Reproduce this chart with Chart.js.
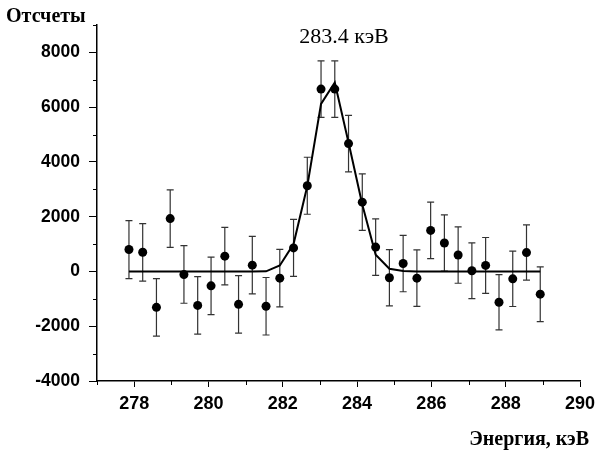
<!DOCTYPE html>
<html>
<head>
<meta charset="utf-8">
<script src="https://cdn.jsdelivr.net/npm/chart.js@4/dist/chart.umd.min.js"></script>
<style>
  html, body { margin: 0; padding: 0; background: #fff; }
  #wrap { width: 598px; height: 450px; }
</style>
</head>
<body>
<div id="wrap"><canvas id="spectrum"></canvas></div>
<script>
// energy channels, keV
const energy = [277.86, 278.23, 278.60, 278.97, 279.34, 279.71, 280.07, 280.44, 280.81, 281.18,
  281.55, 281.92, 282.29, 282.66, 283.03, 283.40, 283.77, 284.14, 284.50, 284.87,
  285.24, 285.61, 285.98, 286.35, 286.72, 287.09, 287.46, 287.82, 288.19, 288.56, 288.93];
// measured counts
const counts = [800, 700, -1310, 1930, -110, -1240, -525, 560, -1200, 230,
  -1270, -245, 860, 3130, 6660, 6660, 4670, 2530, 890, -230,
  290, -245, 1500, 1040, 600, 25, 220, -1125, -270, 690, -830];
// error bar half-heights
const errors = [1060, 1050, 1050, 1050, 1050, 1050, 1050, 1050, 1050, 1050,
  1050, 1050, 1040, 1040, 1030, 1030, 1030, 1030, 1030, 1030,
  1030, 1030, 1030, 1030, 1030, 1020, 1020, 1010, 1010, 1010, 1000];
// fitted peak
const fitCounts = [0, 0, 0, 0, 0, 0, 0, 0, 0, 0,
  5, 220, 1000, 3120, 6117, 6900, 4709, 2448, 612, 99,
  15, 0, 0, 0, 0, 0, 0, 0, 0, 0, 0];

const peakLabel = '283.4 кэВ';
const yTitle = 'Отсчеты';
const xTitle = 'Энергия, кэВ';

const points = energy.map((e, i) => ({ x: e, y: counts[i] }));
const fitLine = energy.map((e, i) => ({ x: e, y: fitCounts[i] }));

// error bars drawn under the points
const errorBars = {
  id: 'errorBars',
  beforeDatasetsDraw(chart) {
    const ctx = chart.ctx;
    const xs = chart.scales.x, ys = chart.scales.y;
    ctx.save();
    ctx.strokeStyle = '#333';
    ctx.lineWidth = 1.2;
    energy.forEach((e, i) => {
      const px = xs.getPixelForValue(e);
      const top = ys.getPixelForValue(counts[i] + errors[i]);
      const bot = ys.getPixelForValue(counts[i] - errors[i]);
      ctx.beginPath();
      ctx.moveTo(px, top); ctx.lineTo(px, bot);
      ctx.moveTo(px - 3.5, top); ctx.lineTo(px + 3.5, top);
      ctx.moveTo(px - 3.5, bot); ctx.lineTo(px + 3.5, bot);
      ctx.stroke();
    });
    ctx.restore();
  }
};

// short minor ticks + free texts
const extras = {
  id: 'extras',
  afterDraw(chart) {
    const ctx = chart.ctx;
    const xs = chart.scales.x, ys = chart.scales.y;
    ctx.save();
    ctx.strokeStyle = '#000';
    ctx.lineWidth = 1;
    xs.ticks.forEach(t => {
      if (t.value % 2 !== 0) {
        const px = Math.round(xs.getPixelForValue(t.value)) + 0.5;
        ctx.beginPath();
        ctx.moveTo(px, xs.top); ctx.lineTo(px, xs.top + 4);
        ctx.stroke();
      }
    });
    ys.ticks.forEach(t => {
      if (t.value % 2000 !== 0) {
        const py = Math.round(ys.getPixelForValue(t.value)) + 0.5;
        ctx.beginPath();
        ctx.moveTo(ys.right, py); ctx.lineTo(ys.right - 4, py);
        ctx.stroke();
      }
    });

    ctx.fillStyle = '#000';
    ctx.textBaseline = 'alphabetic';
    ctx.font = 'bold 20px "Liberation Serif"';
    ctx.textAlign = 'left';
    ctx.fillText(yTitle, 6, 22);
    ctx.textAlign = 'right';
    ctx.font = 'bold 20px "Liberation Serif"';
    ctx.fillText(xTitle, 589, 445);
    ctx.textAlign = 'center';
    ctx.font = '22px "Liberation Serif"';
    ctx.fillText(peakLabel, 344, 43);
    ctx.restore();
  }
};

new Chart(document.getElementById('spectrum'), {
  type: 'scatter',
  data: {
    datasets: [
      {
        label: 'counts',
        data: points,
        pointRadius: 4.5,
        pointBackgroundColor: '#000',
        pointBorderColor: '#000',
        pointBorderWidth: 0,
        showLine: false
      },
      {
        label: 'fit',
        data: fitLine,
        showLine: true,
        borderColor: '#000',
        borderWidth: 2,
        pointRadius: 0,
        tension: 0,
        fill: false
      }
    ]
  },
  options: {
    responsive: true,
    maintainAspectRatio: false,
    animation: false,
    events: [],
    layout: { padding: { top: 25, right: 18, left: 0, bottom: 0 } },
    plugins: { legend: { display: false }, tooltip: { enabled: false } },
    scales: {
      x: {
        type: 'linear',
        min: 277,
        max: 290,
        border: { display: true, color: '#000', width: 1.5 },
        grid: {
          display: true,
          drawOnChartArea: false,
          drawTicks: true,
          tickLength: 6,
          tickColor: c => (c.tick && c.tick.value % 2 !== 0) ? 'rgba(0,0,0,0)' : '#000'
        },
        ticks: {
          stepSize: 1,
          autoSkip: false,
          maxRotation: 0,
          padding: 6,
          color: '#000',
          font: { family: '"Liberation Sans"', weight: 'bold', size: 18 },
          callback: v => (v % 2 === 0 ? String(v) : '')
        },
        afterFit: s => { s.height = 69; s.paddingRight = 0; s.paddingLeft = 0; }
      },
      y: {
        type: 'linear',
        min: -4000,
        max: 9000,
        border: { display: true, color: '#000', width: 1.5 },
        grid: {
          display: true,
          drawOnChartArea: false,
          drawTicks: true,
          tickLength: 8,
          tickColor: c => (c.tick && c.tick.value % 2000 !== 0) ? 'rgba(0,0,0,0)' : '#000'
        },
        ticks: {
          stepSize: 1000,
          autoSkip: false,
          padding: 9,
          color: '#000',
          font: { family: '"Liberation Sans"', weight: 'bold', size: 17.5 },
          callback: v => (v % 2000 === 0 ? String(v) : '')
        },
        afterFit: s => { s.width = 97; s.paddingTop = 0; s.paddingBottom = 0; }
      }
    }
  },
  plugins: [errorBars, extras]
});
</script>
</body>
</html>
